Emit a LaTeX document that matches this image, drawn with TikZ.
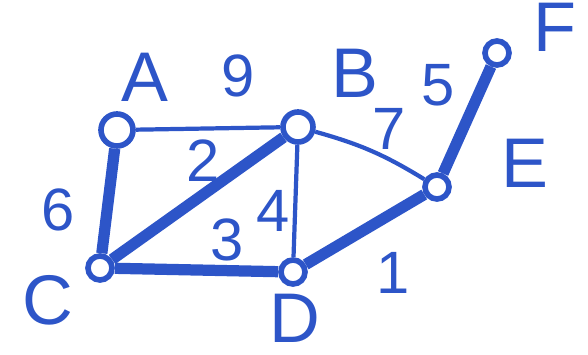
\documentclass[tikz,border=0pt]{standalone}
\usepackage{fontspec}
\setmainfont{Liberation Sans}
\definecolor{pen}{RGB}{45,85,200}
\tikzset{
  vertex/.style={circle,draw=pen,line width=1.6pt,inner sep=0pt,minimum size=0.24cm},
  tree/.style={draw=pen,line width=3.2pt},
  plain/.style={draw=pen,line width=1.2pt},
  lbl/.style={text=pen,inner sep=0pt,font=\fontsize{20}{24}\selectfont},
  wgt/.style={text=pen,inner sep=0pt,font=\fontsize{17}{20}\selectfont}
}
\begin{document}
\begin{tikzpicture}
            \useasboundingbox (0,0) rectangle (5.88,3.55);
            \draw (1.17,2.25) node[vertex,minimum size=0.32cm] (A) {};
            \draw (2.98,2.28) node[vertex,minimum size=0.3cm] (B) {};
            \draw (1.00,0.87) node[vertex] (C) {};
            \draw (2.93,0.83) node[vertex] (D) {};
            \draw (4.37,1.68) node[vertex] (E) {};
            \draw (4.97,3.02) node[vertex] (F) {};

            \node[lbl] (la) at (1.45,2.78) {A};
            \node[lbl] (lb) at (3.55,2.82) {B};
            \node[lbl] (lc) at (0.48,0.55) {C};
            \node[lbl] (ld) at (2.95,0.37) {D};
            \node[lbl] (le) at (5.25,1.92) {E};
            \node[lbl] (lf) at (5.55,3.28) {F};

            \draw[plain] (A)--(B) node[wgt,pos=.5,xshift=0.30cm,yshift=0.53cm] {9};
            \draw[tree] (A)--(C) node[wgt,pos=.5,xshift=-0.50cm,yshift=-0.09cm] {6};
            \draw[tree] (B)--(C) node[wgt,pos=.5,xshift=0.05cm,yshift=0.38cm] {2};
            \draw[tree] (C)--(D) node[wgt,pos=.5,xshift=0.31cm,yshift=0.30cm] {3};
            \draw[plain] (B)--(D) node[wgt,pos=.5,xshift=-0.22cm,yshift=-0.10cm] {4};
            \draw[plain] (B) to[bend left=8] node[wgt,pos=.5,xshift=0.17cm,yshift=0.22cm] {7} (E);
            \draw[tree] (D)--(E) node[wgt,pos=.5,xshift=0.28cm,yshift=-0.43cm] {1};
            \draw[tree] (E)--(F) node[wgt,pos=.5,xshift=-0.29cm,yshift=0.35cm] {5};
\end{tikzpicture}
\end{document}
